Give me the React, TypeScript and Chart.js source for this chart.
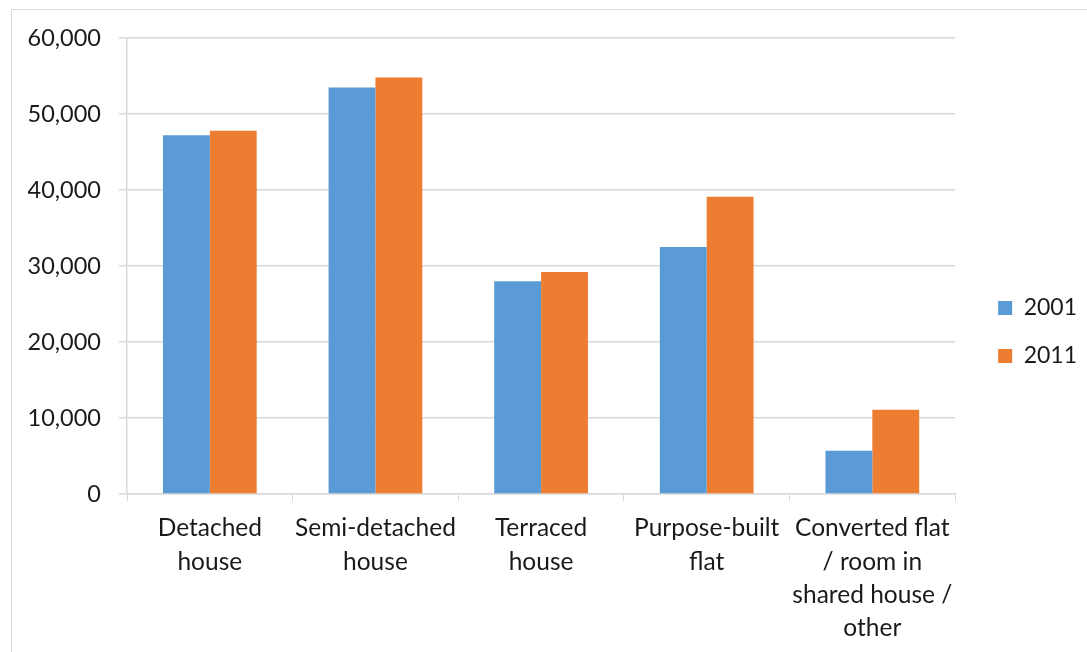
import React, { useEffect, useRef } from "react";
import { Chart, registerables } from "chart.js";

Chart.register(...registerables);

const categories: string[][] = [
  ["Detached", "house"],
  ["Semi-detached", "house"],
  ["Terraced", "house"],
  ["Purpose-built", "flat"],
  ["Converted flat", "/ room in", "shared house /", "other"],
];
const values2001: number[] = [47200, 53500, 28000, 32500, 5700];
const values2011: number[] = [47800, 54800, 29200, 39100, 11100];
const seriesNames: string[] = ["2001", "2011"];
const yTicks: number[] = [0, 10000, 20000, 30000, 40000, 50000, 60000];

const FONT = "Lato, 'Open Sans', sans-serif";

const legendShift = {
  id: "legendShift",
  afterLayout(chart: any) {
    const lg = chart.legend;
    if (lg) {
      lg.bottom -= 26;
      lg.height -= 26;
    }
  },
};

export default function App() {
  const ref = useRef<HTMLCanvasElement | null>(null);

  useEffect(() => {
    if (!ref.current) return;
    const chart = new Chart(ref.current, {
      type: "bar",
      plugins: [legendShift],
      data: {
        labels: categories,
        datasets: [
          {
            label: seriesNames[0],
            data: values2001,
            backgroundColor: "#5B9BD5",
            borderWidth: 0,
            categoryPercentage: 0.566,
            barPercentage: 1,
          },
          {
            label: seriesNames[1],
            data: values2011,
            backgroundColor: "#ED7D31",
            borderWidth: 0,
            categoryPercentage: 0.566,
            barPercentage: 1,
          },
        ],
      },
      options: {
        animation: false,
        responsive: false,
        devicePixelRatio: 1,
        layout: { padding: { top: 28, right: 0, bottom: 0, left: 0 } },
        plugins: {
          legend: {
            position: "right",
            labels: {
              boxWidth: 14,
              boxHeight: 14,
              padding: 25,
              color: "#1a1a1a",
              font: { family: FONT, size: 23 },
            },
          },
          tooltip: { enabled: false },
        },
        scales: {
          x: {
            grid: {
              drawOnChartArea: false,
              drawTicks: true,
              tickLength: 7,
              color: "#d9d9d9",
              offset: true,
            },
            border: { color: "#d9d9d9", width: 1.5 },
            ticks: {
              color: "#1a1a1a",
              font: { family: FONT, size: 24.5, lineHeight: 1.35 },
              padding: 11,
              maxRotation: 0,
              autoSkip: false,
            },
            afterFit: (scale: any) => {
              scale.height = 158;
            },
          },
          y: {
            min: 0,
            max: 60000,
            afterBuildTicks: (scale: any) => {
              scale.ticks = yTicks.map((v) => ({ value: v }));
            },
            grid: {
              color: "#d9d9d9",
              lineWidth: 1.5,
              tickLength: 8,
            },
            border: { color: "#d9d9d9", width: 1.5 },
            ticks: {
              color: "#1a1a1a",
              font: { family: FONT, size: 23.5 },
              padding: 18,
              callback: (v: any) => Number(v).toLocaleString("en-US"),
            },
            afterFit: (scale: any) => {
              scale.width = 115;
              scale.paddingTop = 10;
              scale.paddingBottom = 10;
            },
          },
          gap: {
            type: "linear",
            position: "right",
            display: true,
            grid: { display: false, drawTicks: false },
            border: { display: false },
            ticks: { display: false },
            afterFit: (scale: any) => {
              scale.width = 18;
              scale.paddingTop = 0;
              scale.paddingBottom = 0;
            },
          },
        },
      },
    });
    return () => chart.destroy();
  }, []);

  return (
    <div
      style={{
        position: "absolute",
        left: 11,
        top: 9,
        width: 1076,
        height: 643,
        borderLeft: "1.5px solid #d9d9d9",
        borderTop: "1.5px solid #d9d9d9",
        background: "#fff",
      }}
    >
      <canvas ref={ref} width={1075} height={642} style={{ display: "block" }} />
    </div>
  );
}
